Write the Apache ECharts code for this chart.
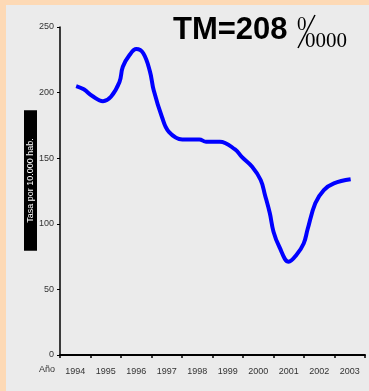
<!DOCTYPE html>
<html><head><meta charset="utf-8">
<script src="https://cdn.jsdelivr.net/npm/echarts@6/dist/echarts.min.js"></script>
<style>html,body{margin:0;padding:0;background:#fdd9b5;}#c{position:absolute;left:6px;top:5px;width:363px;height:386px;background:#ebebeb;}</style>
</head><body><div id="c"></div>
<script>
var years = ['1994','1995','1996','1997','1998','1999','2000','2001','2002','2003'];
var yTicks = [0, 50, 100, 150, 200, 250];
var timePoints = [1994.03,1994.28,1994.56,1994.91,1995.17,1995.45,1995.56,1995.78,1996.0,1996.23,1996.45,1996.57,1996.84,1997.07,1997.51,1998.07,1998.29,1998.74,1999.24,1999.46,1999.80,2000.08,2000.22,2000.38,2000.50,2000.69,2001.0,2001.25,2001.49,2001.62,2001.87,2002.15,2002.48,2003.03];
var rates = [205,202.5,197.4,193.5,196.8,208,219.7,228.6,233.2,230,216,202,181.6,170,164.3,164.3,162.5,162.5,156.7,151,143.5,133.4,122,108,94,82.5,71.1,76.2,85,96,115.6,125.7,130.8,133.9];
var titleText = 'TM=208';

var chart = echarts.init(document.getElementById('c'));
var lineData = timePoints.map(function(t,i){return [t, rates[i]];});
chart.setOption({
  backgroundColor: '#ebebeb',
  animation: false,
  grid: {left: 54, right: 4, top: 22, bottom: 36},
  xAxis: [{
    type: 'category', data: years, boundaryGap: true,
    axisLine: {lineStyle: {color: '#000', width: 2}},
    axisTick: {show: true, length: 3, lineStyle: {color: '#000', width: 1.5}},
    axisLabel: {fontFamily: 'Liberation Sans', fontSize: 9, color: '#333', margin: 12, interval: 0}
  },{
    type: 'value', min: 1993.5, max: 2003.5, show: false
  }],
  yAxis: {
    type: 'value', min: yTicks[0], max: yTicks[yTicks.length-1], interval: 50,
    splitLine: {show: false},
    axisLine: {show: true, lineStyle: {color: '#000', width: 1.5}},
    axisTick: {show: true, length: 3, lineStyle: {color: '#000'}},
    axisLabel: {fontFamily: 'Liberation Sans', fontSize: 9, color: '#333', margin: 6}
  },
  series: [{
    type: 'line', xAxisIndex: 1, data: lineData, smooth: 0.4, showSymbol: false,
    lineStyle: {color: '#0000ff', width: 4}
  }],
  graphic: [
    {type: 'text', left: 167, top: 10, style: {text: titleText, font: 'bold 31px "Liberation Sans"', fill: '#000'}},
    {type: 'text', left: 291, top: 11, style: {text: '0', font: '19px "Liberation Serif"', fill: '#000'}},
    {type: 'line', shape: {x1: 292, y1: 43, x2: 309, y2: 10}, style: {stroke: '#000', lineWidth: 1.5}},
    {type: 'text', left: 299, top: 26, style: {text: '0000', font: '21px "Liberation Serif"', fill: '#000'}},
    {type: 'text', left: 33, top: 360, style: {text: 'Año', font: '9px "Liberation Sans"', fill: '#333'}},
    {type: 'text', x: 24.5, y: 175.5, rotation: Math.PI/2, style: {text: 'Tasa por 10.000 hab.', font: '9px "Liberation Sans"', fill: '#fff', backgroundColor: '#000', padding: [2, 28], align: 'center', verticalAlign: 'middle'}}
  ]
});
</script></body></html>
